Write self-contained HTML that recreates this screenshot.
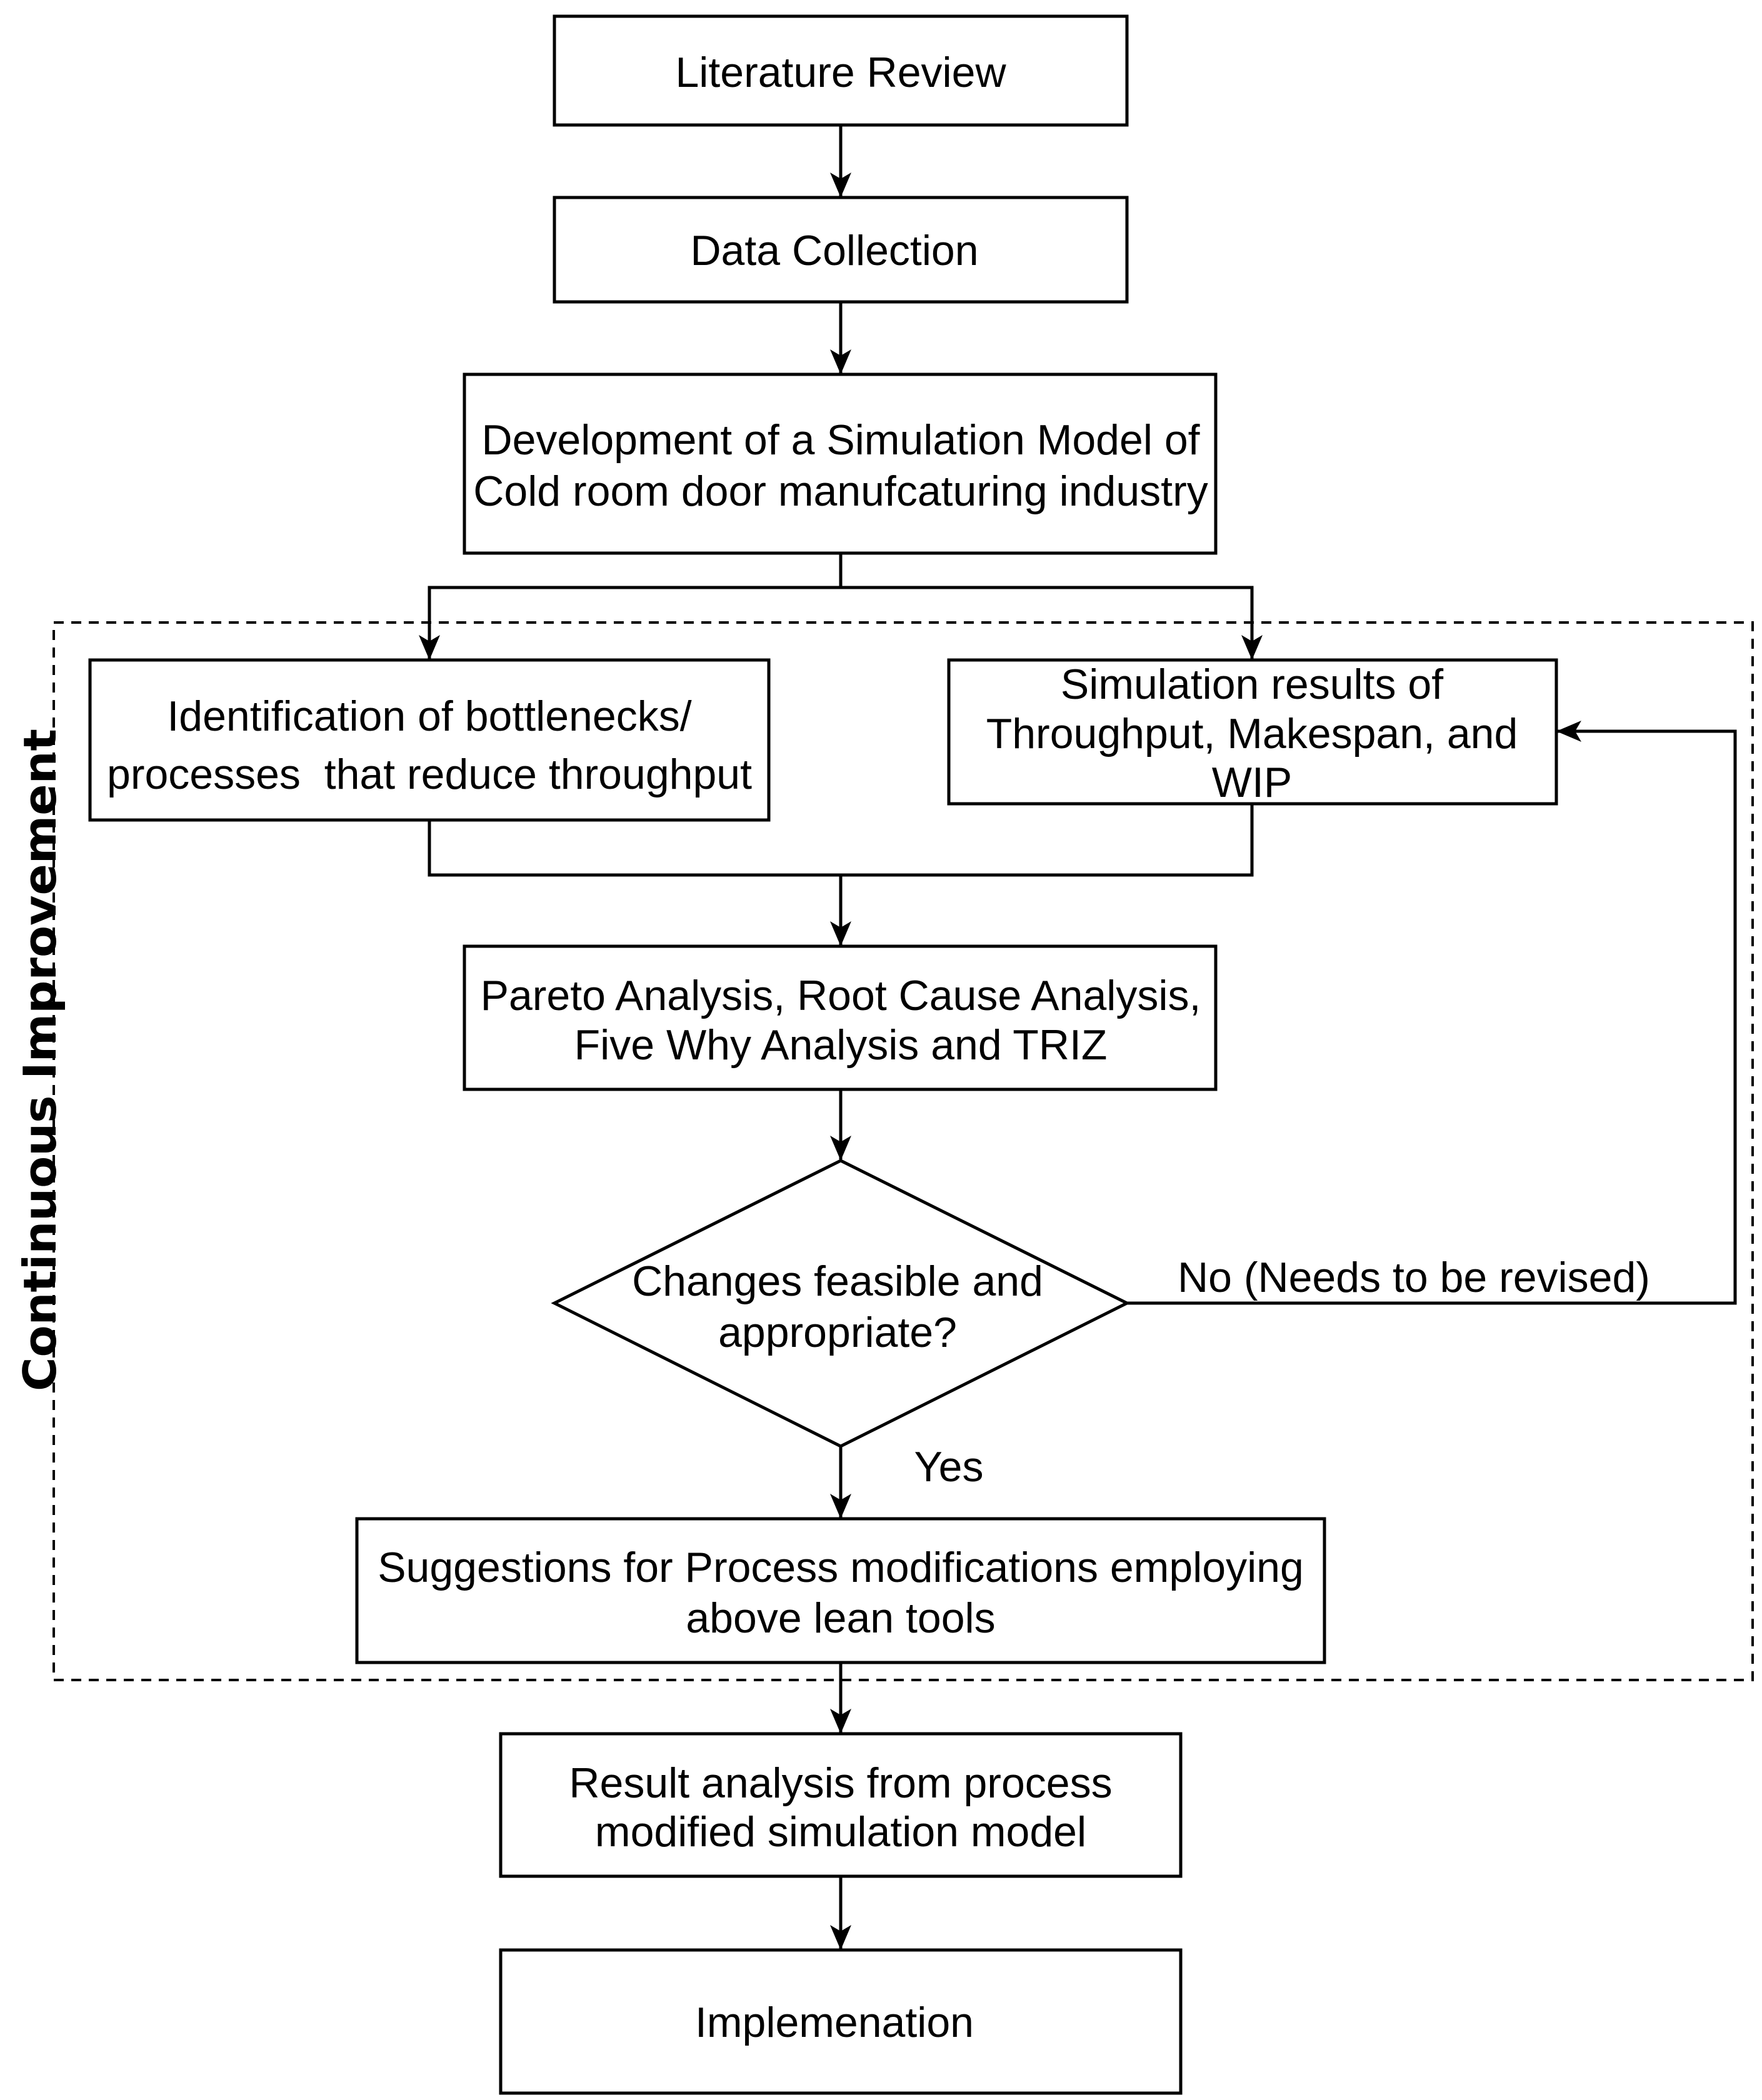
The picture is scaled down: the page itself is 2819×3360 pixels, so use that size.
<!DOCTYPE html>
<html><head><meta charset="utf-8"><style>html,body{margin:0;padding:0;background:#fff}svg{display:block}</style></head>
<body>
<svg width="2819" height="3360" viewBox="0 0 2819 3360" xmlns="http://www.w3.org/2000/svg">
<defs>
<marker id="a" markerUnits="userSpaceOnUse" markerWidth="40" markerHeight="40" viewBox="0 0 40 40" refX="38" refY="20" orient="auto">
<path d="M0,3 L40,20 L0,37 L10,20 Z" fill="#000"/>
</marker>
</defs>
<g fill="none" stroke="#000" stroke-width="5">
<rect x="86" y="996" width="2718" height="1692" stroke-dasharray="16,12" stroke-width="4"/>
<rect x="887" y="26" width="916" height="174" fill="#fff"/>
<rect x="887" y="316" width="916" height="167" fill="#fff"/>
<rect x="743" y="599" width="1202" height="286" fill="#fff"/>
<rect x="144" y="1056" width="1086" height="256" fill="#fff"/>
<rect x="1518" y="1056" width="972" height="230" fill="#fff"/>
<rect x="743" y="1514" width="1202" height="229" fill="#fff"/>
<polygon points="1345,1857 1803,2085 1345,2314 887,2085" fill="#fff"/>
<rect x="571" y="2430" width="1548" height="230" fill="#fff"/>
<rect x="801" y="2774" width="1088" height="228" fill="#fff"/>
<rect x="801" y="3120" width="1088" height="229" fill="#fff"/>
<line x1="1345" y1="200" x2="1345" y2="314" marker-end="url(#a)"/>
<line x1="1345" y1="483" x2="1345" y2="597" marker-end="url(#a)"/>
<polyline points="1345,885 1345,940 687,940 687,1054" marker-end="url(#a)"/>
<polyline points="1345,940 2003,940 2003,1054" marker-end="url(#a)"/>
<polyline points="687,1312 687,1400 2003,1400 2003,1286"/>
<line x1="1345" y1="1400" x2="1345" y2="1512" marker-end="url(#a)"/>
<line x1="1345" y1="1743" x2="1345" y2="1855" marker-end="url(#a)"/>
<polyline points="1803,2085 2776,2085 2776,1170 2492,1170" marker-end="url(#a)"/>
<line x1="1345" y1="2314" x2="1345" y2="2428" marker-end="url(#a)"/>
<line x1="1345" y1="2660" x2="1345" y2="2772" marker-end="url(#a)"/>
<line x1="1345" y1="3002" x2="1345" y2="3118" marker-end="url(#a)"/>
</g>
<g font-family="Liberation Sans, sans-serif" font-size="68" fill="#000" text-anchor="middle" dominant-baseline="central">
<text x="1345" y="116">Literature Review</text>
<text x="1335" y="401">Data Collection</text>
<text x="1345" y="704">Development of a Simulation Model of</text>
<text x="1345" y="786">Cold room door manufcaturing industry</text>
<text x="687" y="1146">Identification of bottlenecks/</text>
<text x="687" y="1239" xml:space="preserve">processes  that reduce throughput</text>
<text x="2003" y="1095">Simulation results of</text>
<text x="2003" y="1174">Throughput, Makespan, and</text>
<text x="2003" y="1252">WIP</text>
<text x="1345" y="1593">Pareto Analysis, Root Cause Analysis,</text>
<text x="1345" y="1672">Five Why Analysis and TRIZ</text>
<text x="1340" y="2050">Changes feasible and</text>
<text x="1340" y="2132">appropriate?</text>
<text x="2262" y="2044">No (Needs to be revised)</text>
<text x="1518" y="2347">Yes</text>
<text x="1345" y="2508">Suggestions for Process modifications employing</text>
<text x="1345" y="2589">above lean tools</text>
<text x="1345" y="2853">Result analysis from process</text>
<text x="1345" y="2931">modified simulation model</text>
<text x="1335" y="3236">Implemenation</text>
<text x="0" y="0" transform="translate(64,1696) rotate(-90)" font-family="DejaVu Sans, sans-serif" font-weight="bold" font-size="72" textLength="1060" lengthAdjust="spacingAndGlyphs">Continuous Improvement</text>
</g>
</svg>
</body></html>
